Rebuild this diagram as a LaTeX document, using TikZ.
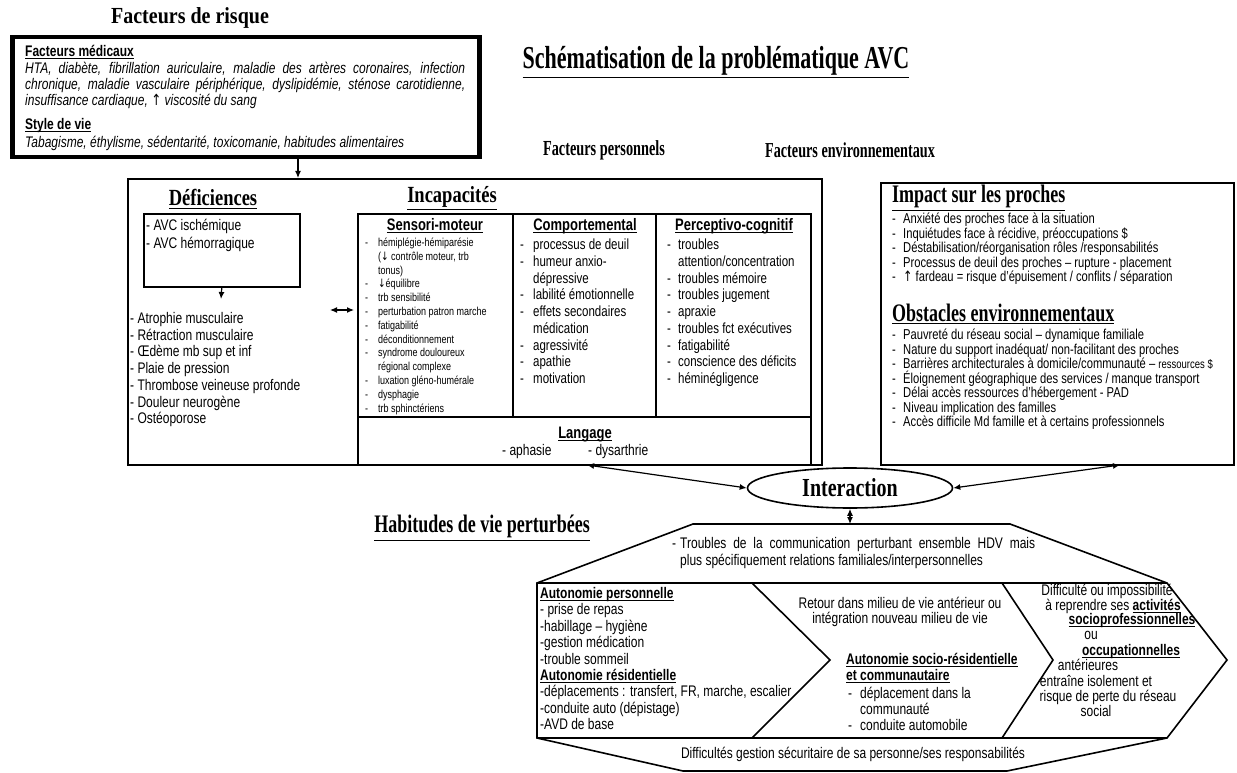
\documentclass[tikz,border=0pt]{standalone}
\usepackage{fontspec}
\usepackage{graphicx}
\setmainfont{Liberation Sans}
\newfontfamily\serifb{Liberation Serif}
\newfontfamily\arr{DejaVu Sans}
\usetikzlibrary{arrows.meta,shapes.geometric}
\newcommand\vstretch[2]{\scalebox{1}[#1]{#2}}
\newbox\stbox
\newbox\ulbox
\newcommand\undl[1]{\setbox\ulbox=\hbox{#1}\rlap{\rule[-1.7pt]{\wd\ulbox}{0.8pt}}\box\ulbox}

\begin{document}
\begin{tikzpicture}[
  x=1pt, y=-1pt,
  >={Latex[length=7pt,width=6pt]},
  box/.style={draw, line width=1.6pt, anchor=north west, inner sep=0pt},
  hd/.style={inner sep=0pt, font=\serifb\bfseries\fontsize{18}{20}\selectfont},
  tall/.style={execute at begin node={\setbox\stbox=\hbox\bgroup},
    execute at end node={\egroup\scalebox{1}[1.28]{\box\stbox}}},
  txt/.style={tall, anchor=west, inner sep=0pt, text height=.7em, text depth=.2em, font=\fontsize{12}{14}\selectfont},
  ctxt/.style={txt, anchor=center},
  btxt/.style={txt, font=\bfseries\fontsize{12}{14}\selectfont},
  smalltxt/.style={txt, font=\fontsize{9}{11}\selectfont},
  coltxt/.style={txt, font=\fontsize{11.5}{13}\selectfont},
  envtxt/.style={txt, font=\fontsize{11.2}{13}\selectfont},
  colhd/.style={tall, inner sep=0pt, text height=.7em, text depth=.2em, font=\bfseries\fontsize{13}{15}\selectfont},
  link/.style={line width=1.2pt}
]
\useasboundingbox (0,0) rectangle (1237,773);

% titles
\node[hd, font=\serifb\bfseries\fontsize{20}{22}\selectfont] (trisk) at (190,18) {\vstretch{1.15}{Facteurs de risque}};
\node[hd, font=\serifb\bfseries\fontsize{22}{24}\selectfont] (title) at (716,62) {\vstretch{1.45}{\underline{Schématisation de la problématique AVC}}};
\node[hd, font=\serifb\bfseries\fontsize{14.3}{16}\selectfont] (tpers) at (604,150) {\vstretch{1.5}{Facteurs personnels}};
\node[hd, font=\serifb\bfseries\fontsize{14.2}{16}\selectfont] (tenv) at (850,150) {\vstretch{1.5}{Facteurs environnementaux}};

% facteurs de risque
\node[box, line width=4.5pt, minimum width=467, minimum height=120] (risk) at (10,35) {};
\node[btxt] (tmed) at (25,54) {\undl{Facteurs médicaux}};
\node[txt, font=\itshape\fontsize{12}{14}\selectfont] (med1) at (25,71) {\makebox[440pt][s]{HTA, diabète, fibrillation auriculaire, maladie des artères coronaires, infection}};
\node[txt, font=\itshape\fontsize{12}{14}\selectfont] (med2) at (25,87) {\makebox[440pt][s]{chronique, maladie vasculaire périphérique, dyslipidémie, sténose carotidienne,}};
\node[txt, font=\itshape\fontsize{12}{14}\selectfont] (med3) at (25,103) {insuffisance cardiaque, {\arr ↑} viscosité du sang};
\node[btxt] (tvie) at (25,127) {\undl{Style de vie}};
\node[txt, font=\itshape\fontsize{12}{14}\selectfont] (vie1) at (25,145) {Tabagisme, éthylisme, sédentarité, toxicomanie, habitudes alimentaires};

% facteurs personnels
\node[box, minimum width=694, minimum height=286] (pers) at (127,178) {};
\coordinate (riskdown) at (298,0);
\draw[->, link] (riskdown |- risk.south) -- (riskdown |- pers.north);

\node[hd, font=\serifb\bfseries\fontsize{18.5}{20}\selectfont] (tdef) at (213,199) {\vstretch{1.25}{\underline{Déficiences}}};
\node[box, minimum width=156, minimum height=73] (avc) at (143,213) {};
\node[txt] (avc1) at (146,228) {- AVC ischémique};
\node[txt] (avc2) at (146,246) {- AVC hémorragique};
\coordinate (deftop) at (221,299);
\draw[->, link] (avc.south) -- (deftop);
\foreach \t [count=\i] in {Atrophie musculaire, Rétraction musculaire, Œdème mb sup et inf, Plaie de pression, Thrombose veineuse profonde, Douleur neurogène, Ostéoporose}
  \node[txt] (def\i) at (130,{321+16.7*(\i-1)}) {- \t};

\coordinate (dl) at (330,310);
\coordinate (dr) at (354,310);
\draw[<->, link] (dl) -- (dr);

\node[hd, font=\serifb\bfseries\fontsize{18.5}{20}\selectfont] (tincap) at (452,198) {\vstretch{1.25}{\underline{Incapacités}}};
\node[box, minimum width=453, minimum height=251] (incap) at (357,213) {};
\draw[line width=1.6pt] (357,417) -- (810,417);
\draw[line width=1.6pt] (513,213) -- (513,417);
\draw[line width=1.6pt] (656,213) -- (656,417);

% sensori-moteur
\node[colhd] (tsm) at (435,228) {\undl{Sensori-moteur}};
\foreach \t [count=\i] in {hémiplégie-hémiparésie, {({\arr ↓} contrôle moteur, trb}, tonus), {{\arr ↓}équilibre}, trb sensibilité, perturbation patron marche, fatigabilité, déconditionnement, syndrome douloureux, régional complexe, luxation gléno-humérale, dysphagie, trb sphinctériens}
  \node[smalltxt] (sm\i) at (378,{244+13.8*(\i-1)}) {\t};
\foreach \i in {1,4,5,6,7,8,9,11,12,13}
  \node[smalltxt] (smd\i) at (365,{244+13.8*(\i-1)}) {-};

% comportemental
\node[colhd] (tcomp) at (585,228) {\undl{Comportemental}};
\foreach \t [count=\i] in { processus de deuil, humeur anxio-, dépressive, labilité émotionnelle, effets secondaires, médication, agressivité, apathie, motivation}
  \node[coltxt] (co\i) at (533,{247+16.75*(\i-1)}) {\t};
\foreach \i in {1,2,4,5,7,8,9}
  \node[coltxt] (cod\i) at (520,{247+16.75*(\i-1)}) {-};

% perceptivo-cognitif
\node[colhd] (tperc) at (734,228) {\undl{Perceptivo-cognitif}};
\foreach \t [count=\i] in {troubles, attention/concentration, troubles mémoire, troubles jugement, apraxie, troubles fct exécutives, fatigabilité, conscience des déficits, héminégligence}
  \node[coltxt] (pc\i) at (678,{247+16.75*(\i-1)}) {\t};
\foreach \i in {1,3,4,5,6,7,8,9}
  \node[coltxt] (pcd\i) at (667,{247+16.75*(\i-1)}) {-};

% langage
\node[colhd] (tlang) at (585,436) {\undl{Langage}};
\node[txt] (lang1) at (502,453) {- aphasie};
\node[txt] (lang2) at (588,453) {- dysarthrie};

% facteurs environnementaux
\node[box, minimum width=353, minimum height=282] (env) at (880,182) {};
\node[hd, anchor=west] (timp) at (892,198) {\vstretch{1.4}{\underline{Impact sur les proches}}};
\foreach \t [count=\i] in {Anxiété des proches face à la situation, {Inquiétudes face à récidive, préoccupations \$}, Déstabilisation/réorganisation rôles /responsabilités, Processus de deuil des proches – rupture - placement, {{\arr ↑} fardeau = risque d’épuisement / conflits / séparation}}{
  \node[envtxt] (impd\i) at (892,{221+14.5*(\i-1)}) {-};
  \node[envtxt] (imp\i) at (903,{221+14.5*(\i-1)}) {\t};
}
\node[hd, anchor=west] (tobs) at (892,314) {\vstretch{1.4}{\underline{Obstacles environnementaux}}};
\foreach \t [count=\i] in {Pauvreté du réseau social – dynamique familiale, Nature du support inadéquat/ non-facilitant des proches, {Barrières architecturales à domicile/communauté – {\fontsize{9.5}{10}\selectfont ressources \$}}, Éloignement géographique des services / manque transport, Délai accès ressources d’hébergement - PAD, Niveau implication des familles, Accès difficile Md famille et à certains professionnels}{
  \node[envtxt] (obsd\i) at (892,{337+14.5*(\i-1)}) {-};
  \node[envtxt] (obs\i) at (903,{337+14.5*(\i-1)}) {\t};
}

% interaction
\node[ellipse, draw, line width=1.6pt, minimum width=205, minimum height=40, inner sep=0pt, font=\serifb\bfseries\fontsize{20}{22}\selectfont] (inter) at (850,488) {\vstretch{1.3}{Interaction}};
\coordinate (incapend) at (587,465);
\coordinate (envend) at (1120,465);
\coordinate (hextop) at (850,524);
\draw[<->, link] (incapend) -- (inter.west);
\draw[<->, link] (envend) -- (inter.east);
\draw[<->, link] (inter.south) -- (hextop);

% habitudes de vie
\node[hd] (thab) at (482,528) {\vstretch{1.4}{\underline{Habitudes de vie perturbées}}};
\draw[line width=1.6pt] (537,583) -- (693,524) -- (1010,524) -- (1167,583) -- (1227,660) -- (1167,738) -- (1007,771) -- (683,771) -- (537,738) -- cycle;
\draw[line width=1.6pt] (537,583) -- (1167,583);
\draw[line width=1.6pt] (537,738) -- (1167,738);
\draw[line width=1.6pt] (752,583) -- (830,660) -- (752,738);
\draw[line width=1.6pt] (1002,583) -- (1053,660) -- (1002,738);

\node[txt] (comd) at (672,546) {-};
\node[txt] (com1) at (680,546) {\makebox[355pt][s]{Troubles de la communication perturbant ensemble HDV mais}};
\node[txt] (com2) at (680,563) {plus spécifiquement relations familiales/interpersonnelles};

\foreach \t [count=\i] in {{\textbf{\undl{Autonomie personnelle}}}, - prise de repas, -habillage – hygiène, -gestion médication, -trouble sommeil, {\textbf{\undl{Autonomie résidentielle}}}, {-déplacements : transfert, FR, marche, escalier}, -conduite auto (dépistage), -AVD de base}
  \node[txt] (ap\i) at (540,{596+16.4*(\i-1)}) {\t};

\node[ctxt] (ret1) at (900,606) {Retour dans milieu de vie antérieur ou};
\node[ctxt] (ret2) at (900,621) {intégration nouveau milieu de vie};
\node[btxt] (soc1) at (846,662) {\undl{Autonomie socio-résidentielle}};
\node[btxt] (soc2) at (846,678) {\undl{et communautaire}};
\node[txt] (soc3d) at (848,696) {-};
\node[txt] (soc3) at (860,696) {déplacement dans la};
\node[txt] (soc4) at (860,712) {communauté};
\node[txt] (soc5d) at (848,728) {-};
\node[txt] (soc5) at (860,728) {conduite automobile};

\foreach \x/\y/\t [count=\i] in {1107/593/Difficulté ou impossibilité, 1113/608/{à reprendre ses \textbf{\undl{activités}}}, 1132/622/{\textbf{\undl{socioprofessionnelles}}}, 1091/637/ou, 1131/653/{\textbf{\undl{occupationnelles}}}, 1088/668/antérieures, 1096/684/entraîne isolement et, 1108/699/risque de perte du réseau, 1096/714/social}
  \node[ctxt] (occ\i) at (\x,\y) {\t};

\node[ctxt] (secu) at (853,756) {Difficultés gestion sécuritaire de sa personne/ses responsabilités};
\end{tikzpicture}
\end{document}
